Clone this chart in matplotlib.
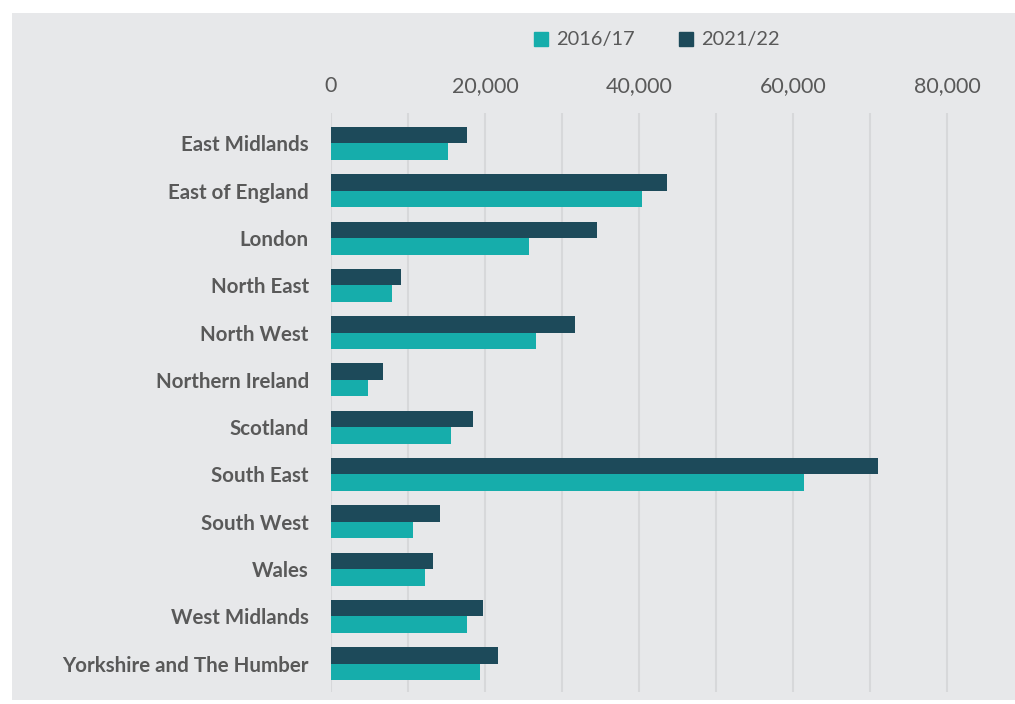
import matplotlib.pyplot as plt
from matplotlib.patches import Rectangle, Patch
import numpy as np

plt.rcParams['font.family'] = ['Lato', 'DejaVu Sans']

regions = ["East Midlands", "East of England", "London", "North East", "North West",
           "Northern Ireland", "Scotland", "South East", "South West", "Wales",
           "West Midlands", "Yorkshire and The Humber"]
y_2016 = [15200, 40400, 25700, 7900, 26600, 4800, 15600, 61400, 10650, 12200, 17650, 19350]
y_2021 = [17650, 43650, 34550, 9100, 31700, 6750, 18450, 71050, 14150, 13250, 19750, 21700]
ticks = [0, 20000, 40000, 60000, 80000]

teal = "#16ADAB"
dark = "#1D4A5A"
bg = "#E7E8EA"
txt = "#595959"

W, H = 1015, 704
fig = plt.figure(figsize=(W / 100, H / 100), dpi=100)
fig.patch.set_facecolor("white")
fig.patches.append(Rectangle((12 / W, 4 / H), 1 - 12 / W, (700 - 13) / H,
                             transform=fig.transFigure, facecolor=bg,
                             edgecolor="none", zorder=-10))

ax = fig.add_axes([331 / W, 12 / H, (W - 331) / W, (692 - 113) / H])
ax.set_facecolor("none")

pos = np.arange(len(regions))
h = 0.35
ax.barh(pos - h / 2, y_2021, height=h, color=dark, zorder=3)
ax.barh(pos + h / 2, y_2016, height=h, color=teal, zorder=3)

ax.set_ylim(11.6, -0.645)
ax.set_xlim(0, 88830)
for v in range(0, 90000, 10000):
    ax.axvline(v, color="#D7D8DA", lw=1.5, zorder=1)

ax.xaxis.tick_top()
ax.set_xticks(ticks)
ax.set_xticklabels([f"{t:,}" for t in ticks])
ax.tick_params(axis="x", length=0, pad=12, labelsize=15.5, labelcolor=txt)
ax.set_yticks(pos)
ax.set_yticklabels(regions, fontweight="bold")
ax.tick_params(axis="y", length=0, pad=16, labelsize=14.8, labelcolor=txt)
for s in ax.spines.values():
    s.set_visible(False)

handles = [Patch(color=teal), Patch(color=dark)]
fig.legend(handles, ["2016/17", "2021/22"], loc="center", bbox_to_anchor=(657 / W, 1 - 40 / H),
           ncol=2, frameon=False, handlelength=0.7, handleheight=0.7, handletextpad=0.4,
           columnspacing=2.2, fontsize=14.4, labelcolor=txt)

fig.savefig("out.png", dpi=100)
